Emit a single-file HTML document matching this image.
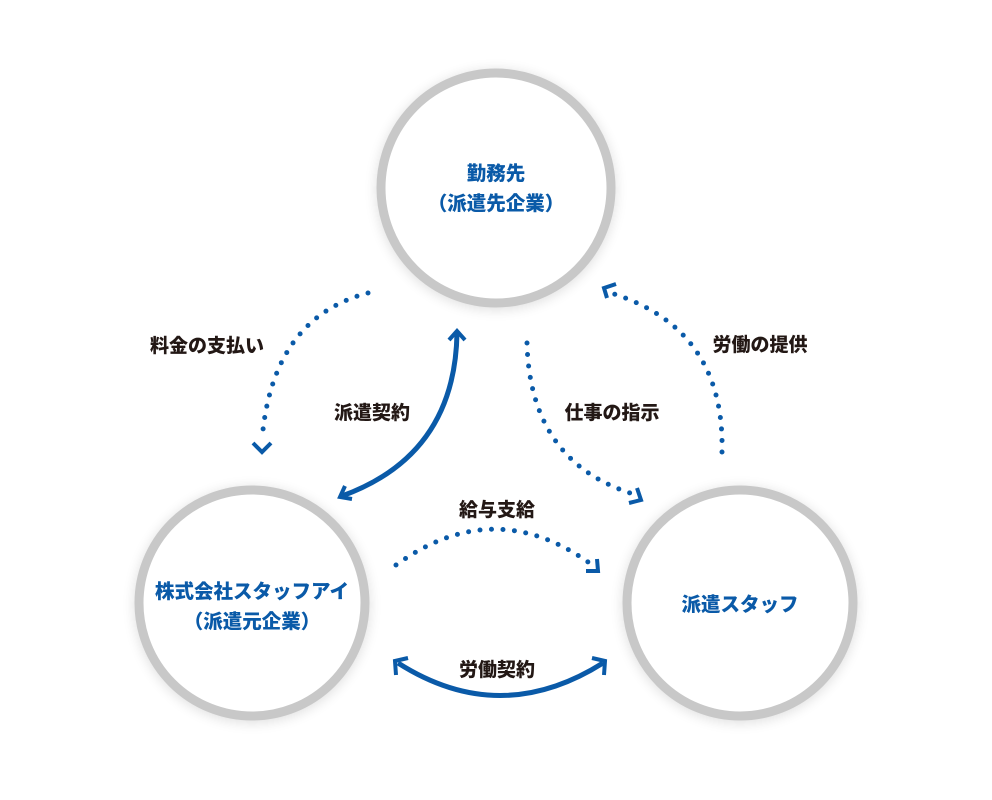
<!DOCTYPE html>
<html><head><meta charset="utf-8"><style>
html,body{margin:0;padding:0;background:#fff;}
svg{display:block}
.c{font-family:"Liberation Sans","Noto Sans CJK JP",sans-serif;font-weight:900;font-size:19.5px;fill:#0a5aa8;text-anchor:middle}
.l{font-family:"Liberation Sans","Noto Sans CJK JP",sans-serif;font-weight:900;font-size:19px;fill:#231815;text-anchor:middle}
.d{fill:none;stroke:#0a5aa8;stroke-width:5;stroke-linecap:round;stroke-dasharray:0 11.5}
.s{fill:none;stroke:#0a5aa8;stroke-width:5}
.h{fill:none;stroke:#0a5aa8;stroke-width:4}
</style></head><body>
<svg width="992" height="800" viewBox="0 0 992 800">
<defs>
<filter id="sh" x="-20%" y="-20%" width="140%" height="140%"><feGaussianBlur stdDeviation="6"/></filter>
</defs>
<g fill="#000" opacity="0.12" filter="url(#sh)">
<circle cx="496" cy="190" r="120"/><circle cx="252" cy="605" r="118"/><circle cx="740" cy="605" r="118"/>
</g>
<g fill="#fff" stroke="#c8c8c8" stroke-width="9">
<circle cx="496" cy="188" r="115"/><circle cx="252" cy="603" r="113"/><circle cx="740" cy="603" r="113"/>
</g>
<text class="c" x="496" y="180">勤務先</text>
<text class="c" x="496" y="210">（派遣先企業）</text>
<text class="c" x="252" y="598">株式会社スタッフアイ</text>
<text class="c" x="252" y="628">（派遣元企業）</text>
<text class="c" x="740" y="611">派遣スタッフ</text>

<text class="l" x="207" y="352">料金の支払い</text>
<text class="l" x="372" y="419">派遣契約</text>
<text class="l" x="612" y="419">仕事の指示</text>
<text class="l" x="760" y="351">労働の提供</text>
<text class="l" x="497" y="516">給与支給</text>
<text class="l" x="497" y="676">労働契約</text>

<!-- 料金の支払い -->
<path class="d" d="M368 293 Q272 318 262 440"/>
<polyline class="h" points="253,443 262,452 271,443"/>
<!-- 派遣契約 -->
<path class="s" d="M457 333 Q455 455 342 496"/>
<polyline class="h" points="449,340 457,331 465,340"/>
<polyline class="h" points="345,486 340,497 352,499"/>
<!-- 仕事の指示 -->
<path class="d" d="M527 343 Q530 460 630 493"/>
<polyline class="h" points="637,488 641,500 629,503"/>
<!-- 労働の提供 -->
<path class="d" d="M722 452 Q725 330 614 294"/>
<polyline class="h" points="607,298 604,288 616,284"/>
<!-- 給与支給 -->
<path class="d" d="M396 565 Q493 495 588 562"/>
<polyline class="h" points="586,571 598,571 597,559"/>
<!-- 労働契約 -->
<path class="s" d="M398 663 Q500 728 603 663"/>
<polyline class="h" points="396,675 395,661 408,658"/>
<polyline class="h" points="592,658 605,661 604,675"/>
</svg>
</body></html>
